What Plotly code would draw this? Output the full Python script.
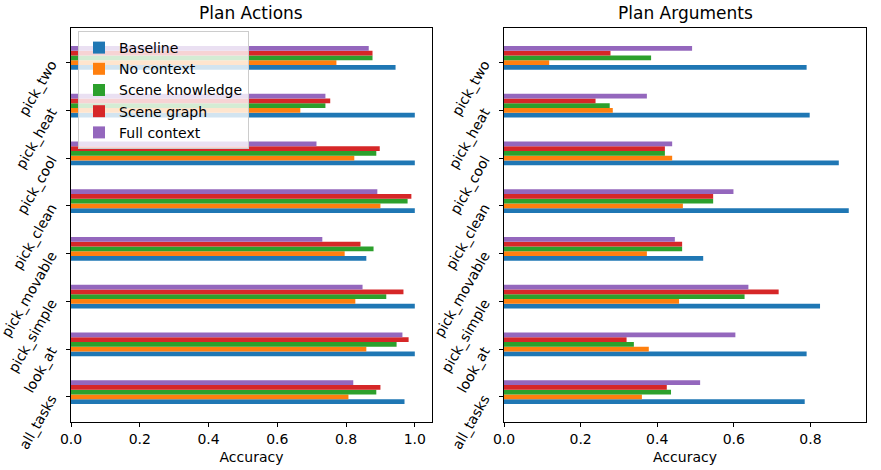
import plotly.graph_objects as go

categories = ["all_tasks", "look_at", "pick_simple", "pick_movable", "pick_clean", "pick_cool", "pick_heat", "pick_two"]
series_names = ["Baseline", "No context", "Scene knowledge", "Scene graph", "Full context"]
colors = ["#1f77b4", "#ff7f0e", "#2ca02c", "#d62728", "#9467bd"]

# Plan Actions accuracy (per category, bottom to top)
actions_baseline = [0.970, 1.0, 1.0, 0.859, 1.0, 1.0, 1.0, 0.944]
actions_no_context = [0.807, 0.859, 0.827, 0.796, 0.900, 0.824, 0.667, 0.772]
actions_scene_knowledge = [0.888, 0.947, 0.917, 0.880, 0.979, 0.888, 0.740, 0.877]
actions_scene_graph = [0.900, 0.982, 0.967, 0.842, 0.990, 0.898, 0.754, 0.877]
actions_full_context = [0.821, 0.964, 0.848, 0.731, 0.891, 0.714, 0.740, 0.866]

# Plan Arguments accuracy
args_baseline = [0.785, 0.790, 0.825, 0.520, 0.900, 0.874, 0.798, 0.790]
args_no_context = [0.360, 0.378, 0.457, 0.373, 0.467, 0.439, 0.284, 0.118]
args_scene_knowledge = [0.436, 0.339, 0.628, 0.465, 0.546, 0.420, 0.276, 0.384]
args_scene_graph = [0.425, 0.320, 0.717, 0.465, 0.546, 0.420, 0.239, 0.278]
args_full_context = [0.512, 0.604, 0.638, 0.446, 0.599, 0.439, 0.373, 0.491]

actions = [actions_baseline, actions_no_context, actions_scene_knowledge, actions_scene_graph, actions_full_context]
arguments = [args_baseline, args_no_context, args_scene_knowledge, args_scene_graph, args_full_context]

bar_h = 0.1
offsets = [-0.1, 0.0, 0.1, 0.2, 0.3]
idx = list(range(len(categories)))

fig = go.Figure()
for si, name in enumerate(series_names):
    fig.add_trace(go.Bar(
        x=actions[si], y=[i + offsets[si] for i in idx], orientation="h",
        width=bar_h, name=name, marker=dict(color=colors[si], line=dict(width=0)),
        xaxis="x", yaxis="y", legendgroup=name, showlegend=True))
for si, name in enumerate(series_names):
    fig.add_trace(go.Bar(
        x=arguments[si], y=[i + offsets[si] for i in idx], orientation="h",
        width=bar_h, name=name, marker=dict(color=colors[si], line=dict(width=0)),
        xaxis="x2", yaxis="y2", legendgroup=name, showlegend=False))

W, H = 881, 470


def fx(p):
    return p / W


def fy(p):
    return 1 - p / H


l1, r1 = fx(71), fx(432)
l2, r2 = fx(504), fx(866)
yb, yt = fy(422), fy(28)

tickfont = dict(family="DejaVu Sans", size=14, color="black")
axis_common = dict(showline=True, linecolor="black", linewidth=1, mirror=True,
                   ticks="outside", ticklen=4, tickcolor="black", showgrid=False,
                   zeroline=False, tickfont=tickfont, automargin=False)

ymax_range = [-0.525, 7.725]

fig.update_layout(
    width=W, height=H,
    margin=dict(l=0, r=0, t=0, b=0, autoexpand=False),
    paper_bgcolor="white", plot_bgcolor="white",
    barmode="overlay",
    font=dict(family="DejaVu Sans", size=14, color="black"),
    xaxis=dict(domain=[l1, r1], range=[0, 1.05], tickvals=[0, 0.2, 0.4, 0.6, 0.8, 1.0],
               ticktext=["0.0", "0.2", "0.4", "0.6", "0.8", "1.0"], anchor="y",
               title=dict(text="Accuracy", font=tickfont, standoff=6), **axis_common),
    yaxis=dict(domain=[yb, yt], range=ymax_range, tickvals=idx, ticktext=categories,
               tickangle=-60, anchor="x", ticklabelstandoff=12, **axis_common),
    xaxis2=dict(domain=[l2, r2], range=[0, 0.945], tickvals=[0, 0.2, 0.4, 0.6, 0.8],
                ticktext=["0.0", "0.2", "0.4", "0.6", "0.8"], anchor="y2",
                title=dict(text="Accuracy", font=tickfont, standoff=6), **axis_common),
    yaxis2=dict(domain=[yb, yt], range=ymax_range, tickvals=idx, ticktext=categories,
                tickangle=-60, anchor="x2", ticklabelstandoff=12, **axis_common),
    legend=dict(x=fx(78), y=fy(31), xanchor="left", yanchor="top",
                bgcolor="rgba(255,255,255,0.8)", bordercolor="#cccccc", borderwidth=1,
                font=dict(family="DejaVu Sans", size=14, color="black"),
                traceorder="normal", itemwidth=30),
    annotations=[
        dict(text="Plan Actions", x=(l1 + r1) / 2, y=fy(13), xref="paper", yref="paper",
             xanchor="center", yanchor="middle",
             showarrow=False, font=dict(family="DejaVu Sans", size=17, color="black")),
        dict(text="Plan Arguments", x=(l2 + r2) / 2, y=fy(13), xref="paper", yref="paper",
             xanchor="center", yanchor="middle",
             showarrow=False, font=dict(family="DejaVu Sans", size=17, color="black")),
    ],
)

fig.write_html("out.html", config={"displayModeBar": False},
               post_script="document.body.style.margin='0';document.body.style.padding='0';")
